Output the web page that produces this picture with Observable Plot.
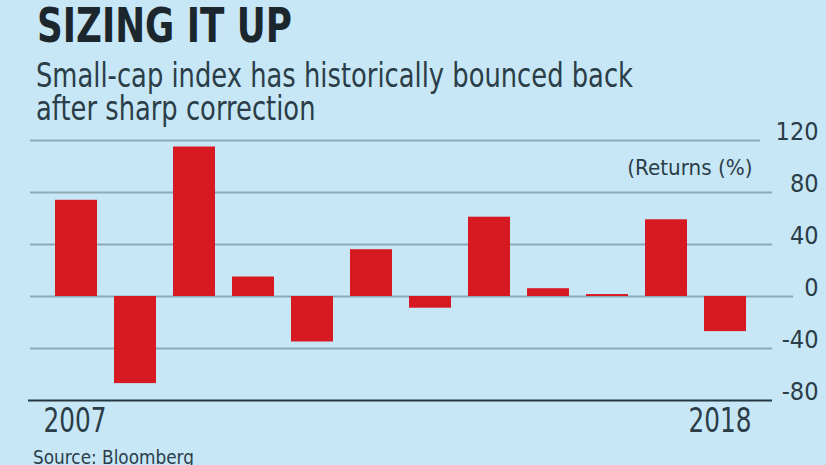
<!DOCTYPE html>
<html>
<head>
<meta charset="utf-8">
<script src="https://cdn.jsdelivr.net/npm/d3@7"></script>
<script src="https://cdn.jsdelivr.net/npm/@observablehq/plot@0.6"></script>
<style>
  html, body { margin: 0; padding: 0; }
  body { width: 826px; height: 465px; overflow: hidden; background: #c7e7f7; position: relative;
         font-family: "DejaVu Sans", sans-serif; }
  .t { position: absolute; white-space: nowrap; transform-origin: 0 0; }
  #title { left: 37px; top: 1px; font-size: 48px; line-height: 48px; font-weight: bold; color: #1c262d; }
  #sub { left: 36px; top: 59px; font-size: 33px; line-height: 33px; color: #2b3d47; }
  #source { left: 33px; top: 447px; font-size: 20px; line-height: 20px; color: #2b3d47; }
  #chart { position: absolute; left: 0; top: 130px; }
</style>
</head>
<body>
<div class="t" id="title">SIZING IT UP</div>
<div class="t" id="sub">Small-cap index has historically bounced back<br>after sharp correction</div>
<div id="chart"></div>
<div class="t" id="source">Source: Bloomberg</div>
<script>
const years = ["2007","2008","2009","2010","2011","2012","2013","2014","2015","2016","2017","2018"];
const returns = [74, -67, 115, 15, -35, 36, -9, 61, 6, 1.5, 59, -27];
const yTicks = [-80, -40, 0, 40, 80, 120];
const gridLines = [80, 40, -40];
const unitLabel = "(Returns (%)";

const data = years.map((year, i) => ({year, value: returns[i]}));
const red = "#d71a21";
const grid = "#8ea9b6";
const ink = "#2b3d47";
const axisInk = "#24363f";
const firstYear = years[0], lastYear = years[years.length - 1];
const yMin = yTicks[0], yMax = yTicks[yTicks.length - 1];

const chart = Plot.plot({
  width: 826,
  height: 310,
  marginTop: 10,
  marginBottom: 40,
  marginLeft: 30,
  marginRight: 54,
  style: {background: "transparent", fontFamily: '"DejaVu Sans", sans-serif', color: ink, overflow: "visible"},
  x: {type: "band", domain: years, paddingInner: 0.28, paddingOuter: 0.365, axis: null},
  y: {domain: [yMin, yMax], axis: null},
  marks: [
    Plot.ruleY(gridLines, {stroke: grid, strokeWidth: 2}),
    Plot.ruleY([yMax], {stroke: grid, strokeWidth: 2, insetRight: 12}),
    Plot.ruleY([0], {stroke: grid, strokeWidth: 2, insetRight: -21}),
    Plot.barY(data, {x: "year", y: "value", fill: red}),
    Plot.ruleY([yMin], {stroke: axisInk, strokeWidth: 2, insetLeft: -2}),
    Plot.axisY(yTicks, {anchor: "right", label: null, tickSize: 0, tickFormat: d => String(d), textAnchor: "end", dx: 37, dy: -9, fontSize: 25, fill: ink}),
    Plot.text([unitLabel], {frameAnchor: "top-right", text: d => d, textAnchor: "end", dx: -20, dy: 20, fontSize: 21, fill: ink}),
    Plot.text([firstYear], {x: d => d, y: yMin, text: d => d, textAnchor: "start", dx: -33, dy: 21, fontSize: 33, fill: ink}),
    Plot.text([lastYear], {x: d => d, y: yMin, text: d => d, textAnchor: "end", dx: 26, dy: 21, fontSize: 33, fill: ink})
  ]
});
document.getElementById("chart").appendChild(chart);

// condensed look: squeeze text horizontally
chart.querySelectorAll("text").forEach(t => {
  const s = t.textContent.trim();
  if (!s) return;
  const f = /^\d{4}$/.test(s) ? 0.75 : (s === unitLabel ? 0.95 : 0.9);
  const L = t.getComputedTextLength();
  t.setAttribute("textLength", (L * f).toFixed(1));
  t.setAttribute("lengthAdjust", "spacingAndGlyphs");
});
function fit(id, target) {
  const el = document.getElementById(id);
  const w = el.getBoundingClientRect().width;
  el.style.transform = `scaleX(${target / w})`;
}
fit("title", 255);
fit("sub", 597);
fit("source", 161);
</script>
</body>
</html>
